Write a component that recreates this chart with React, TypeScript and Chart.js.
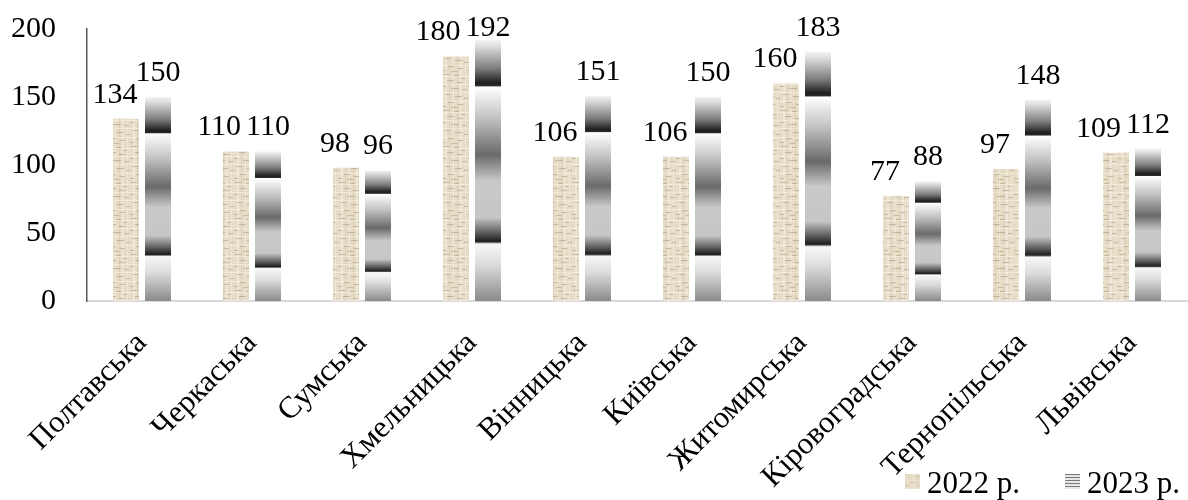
import React, { useEffect, useRef } from 'react';
import { Chart, registerables } from 'chart.js';

Chart.register(...registerables);

const categories = [
  'Полтавська',
  'Черкаська',
  'Сумська',
  'Хмельницька',
  'Вінницька',
  'Київська',
  'Житомирська',
  'Кіровоградська',
  'Тернопільська',
  'Львівська',
];
const values2022 = [134, 110, 98, 180, 106, 106, 160, 77, 97, 109];
const values2023 = [150, 110, 96, 192, 151, 150, 183, 88, 148, 112];
const seriesLabels = ['2022 р.', '2023 р.'];
const yMin = 0;
const yMax = 200;
const yStep = 50;

const FONT_FAMILY = '"Liberation Serif", "Times New Roman", serif';
const TICK_SIZE = 30;
const CAT_SIZE = 31;
const LEGEND_SIZE = 31;

function makeLinenCanvas(): HTMLCanvasElement {
  const W = 26;
  const H = 36;
  const c = document.createElement('canvas');
  c.width = W;
  c.height = H;
  const g = c.getContext('2d')!;
  g.fillStyle = '#e6dcc6';
  g.fillRect(0, 0, W, H);
  [[3, 2], [11, 1], [18, 2], [23, 1]].forEach(([x, w]) => {
    g.fillStyle = 'rgba(255,255,255,0.28)';
    g.fillRect(x, 0, w, H);
  });
  [[7, 1], [15, 1]].forEach(([x, w]) => {
    g.fillStyle = 'rgba(190,175,140,0.25)';
    g.fillRect(x, 0, w, H);
  });
  [4, 12, 20, 29].forEach((y) => {
    g.fillStyle = 'rgba(255,255,255,0.35)';
    g.fillRect(0, y, W, 1);
  });
  const dashes = [
    [1, 2, 6], [12, 3, 5], [19, 6, 4], [5, 8, 7], [15, 10, 6], [0, 14, 4],
    [9, 16, 8], [20, 17, 5], [3, 22, 5], [13, 24, 7], [22, 26, 4], [6, 30, 6],
    [16, 32, 5], [0, 34, 4], [10, 35, 5],
  ];
  dashes.forEach(([x, y, w]) => {
    g.fillStyle = 'rgba(120,100,70,0.3)';
    g.fillRect(x, y, w, 1);
  });
  return c;
}

function makeStripeCanvas(): HTMLCanvasElement {
  const c = document.createElement('canvas');
  c.width = 4;
  c.height = 3;
  const g = c.getContext('2d')!;
  g.fillStyle = '#e6e6e6';
  g.fillRect(0, 0, 4, 3);
  g.fillStyle = '#7a7a7a';
  g.fillRect(0, 0, 4, 1);
  return c;
}

const metalStops: [number, string][] = [
  [0, '#f3f3f3'],
  [0.02, '#e2e2e2'],
  [0.11, '#7c7c7c'],
  [0.165, '#1e1e1e'],
  [0.176, '#2a2a2a'],
  [0.18, '#ffffff'],
  [0.3, '#c2c2c2'],
  [0.44, '#6a6a6a'],
  [0.54, '#c9c9c9'],
  [0.68, '#c6c6c6'],
  [0.74, '#5a5a5a'],
  [0.772, '#1c1c1c'],
  [0.782, '#f8f8f8'],
  [0.86, '#dcdcdc'],
  [1, '#8a8a8a'],
];

const valueLabelsPlugin = {
  id: 'valueLabels',
  afterDatasetsDraw(chart: any) {
    const ctx = chart.ctx;
    ctx.save();
    ctx.font = `${TICK_SIZE}px ${FONT_FAMILY}`;
    ctx.fillStyle = '#000';
    ctx.textAlign = 'center';
    ctx.textBaseline = 'alphabetic';
    const ds0 = chart.data.datasets[0];
    const ds1 = chart.data.datasets[1];
    const m0 = chart.getDatasetMeta(0);
    const m1 = chart.getDatasetMeta(1);
    const textH = TICK_SIZE * 0.68;
    m0.data.forEach((bar0: any, i: number) => {
      const bar1 = m1.data[i];
      const t0 = String(ds0.data[i]);
      const t1 = String(ds1.data[i]);
      const w0 = ctx.measureText(t0).width;
      const w1 = ctx.measureText(t1).width;
      const y0 = Math.max(bar0.y - 16, 36);
      const y1 = Math.max(bar1.y - 16, 36);
      const x1 = bar1.x;
      let x0 = bar0.x - 11;
      const verticalOverlap = Math.abs(y0 - y1) < textH;
      if (verticalOverlap) {
        const maxRight = x1 - w1 / 2 - 5;
        if (x0 + w0 / 2 > maxRight) x0 = maxRight - w0 / 2;
      }
      ctx.fillText(t0, x0, y0);
      ctx.fillText(t1, x1, y1);
    });
    ctx.restore();
  },
};

const legendPlugin = {
  id: 'customLegend',
  afterDraw(chart: any) {
    const ctx = chart.ctx;
    const W = chart.width;
    ctx.save();
    ctx.font = `${LEGEND_SIZE}px ${FONT_FAMILY}`;
    ctx.fillStyle = '#000';
    ctx.textAlign = 'left';
    ctx.textBaseline = 'alphabetic';
    const box = 15;
    const gapBoxText = 7;
    const gapItems = 45;
    const baseline = 493;
    const w1 = ctx.measureText(seriesLabels[0]).width;
    const w2 = ctx.measureText(seriesLabels[1]).width;
    const right = W - 8;
    const t2x = right - w2;
    const b2x = t2x - gapBoxText - box;
    const t1x = b2x - gapItems - w1;
    const b1x = t1x - gapBoxText - box;
    const boxY = baseline - 19;
    const linen = ctx.createPattern(makeLinenCanvas(), 'repeat');
    ctx.fillStyle = '#e3d9c2';
    ctx.fillRect(b1x, boxY, box, box);
    ctx.fillStyle = linen;
    ctx.globalAlpha = 0.6;
    ctx.fillRect(b1x, boxY, box, box);
    ctx.globalAlpha = 1;
    ctx.fillStyle = ctx.createPattern(makeStripeCanvas(), 'repeat');
    ctx.fillRect(b2x, boxY, box, box);
    ctx.fillStyle = '#000';
    ctx.fillText(seriesLabels[0], t1x, baseline);
    ctx.fillText(seriesLabels[1], t2x, baseline);
    ctx.restore();
  },
};

export default function App() {
  const canvasRef = useRef<HTMLCanvasElement | null>(null);

  useEffect(() => {
    const canvas = canvasRef.current;
    if (!canvas) return;
    const ctx2d = canvas.getContext('2d')!;
    const linen = ctx2d.createPattern(makeLinenCanvas(), 'repeat');

    const metalColor = (c: any) => {
      const chart = c.chart;
      if (c.type !== 'data' || !chart.chartArea) return '#a0a0a0';
      const y = chart.scales.y;
      const top = y.getPixelForValue(c.raw);
      const bottom = y.getPixelForValue(0);
      const grad = chart.ctx.createLinearGradient(0, top, 0, bottom);
      metalStops.forEach(([o, col]) => grad.addColorStop(o, col));
      return grad;
    };

    const chart = new Chart(canvas, {
      type: 'bar',
      data: {
        labels: categories,
        datasets: [
          {
            label: seriesLabels[0],
            data: values2022,
            backgroundColor: linen as any,
            borderWidth: 0,
            categoryPercentage: 0.582,
            barPercentage: 0.8125,
          },
          {
            label: seriesLabels[1],
            data: values2023,
            backgroundColor: metalColor as any,
            borderWidth: 0,
            categoryPercentage: 0.582,
            barPercentage: 0.8125,
          },
        ],
      },
      options: {
        responsive: false,
        animation: false,
        devicePixelRatio: 1,
        layout: { padding: { top: 29, right: 1, left: 0, bottom: 0 } },
        plugins: {
          legend: { display: false },
          tooltip: { enabled: false },
        },
        scales: {
          x: {
            grid: { display: false },
            border: { display: true, color: '#d9d9d9', width: 2 },
            ticks: {
              autoSkip: false,
              minRotation: 45,
              maxRotation: 45,
              padding: 16,
              color: '#000',
              font: { family: FONT_FAMILY, size: CAT_SIZE },
            },
            afterFit: (scale: any) => {
              scale.height = 199;
              scale.paddingLeft = 0;
              scale.paddingRight = 0;
            },
          },
          y: {
            min: yMin,
            max: yMax,
            grid: { display: false },
            border: { display: true, color: '#595959', width: 1.5 },
            ticks: {
              stepSize: yStep,
              padding: 23,
              color: '#000',
              font: { family: FONT_FAMILY, size: TICK_SIZE },
            },
            afterFit: (scale: any) => {
              scale.width = 87;
              scale.paddingTop = 0;
              scale.paddingBottom = 0;
            },
          },
        },
      },
      plugins: [valueLabelsPlugin, legendPlugin],
    });

    return () => chart.destroy();
  }, []);

  return (
    <div style={{ position: 'fixed', left: 0, top: 0, width: 1188, height: 500, background: '#fff' }}>
      <canvas ref={canvasRef} width={1188} height={500} style={{ display: 'block' }} />
    </div>
  );
}
